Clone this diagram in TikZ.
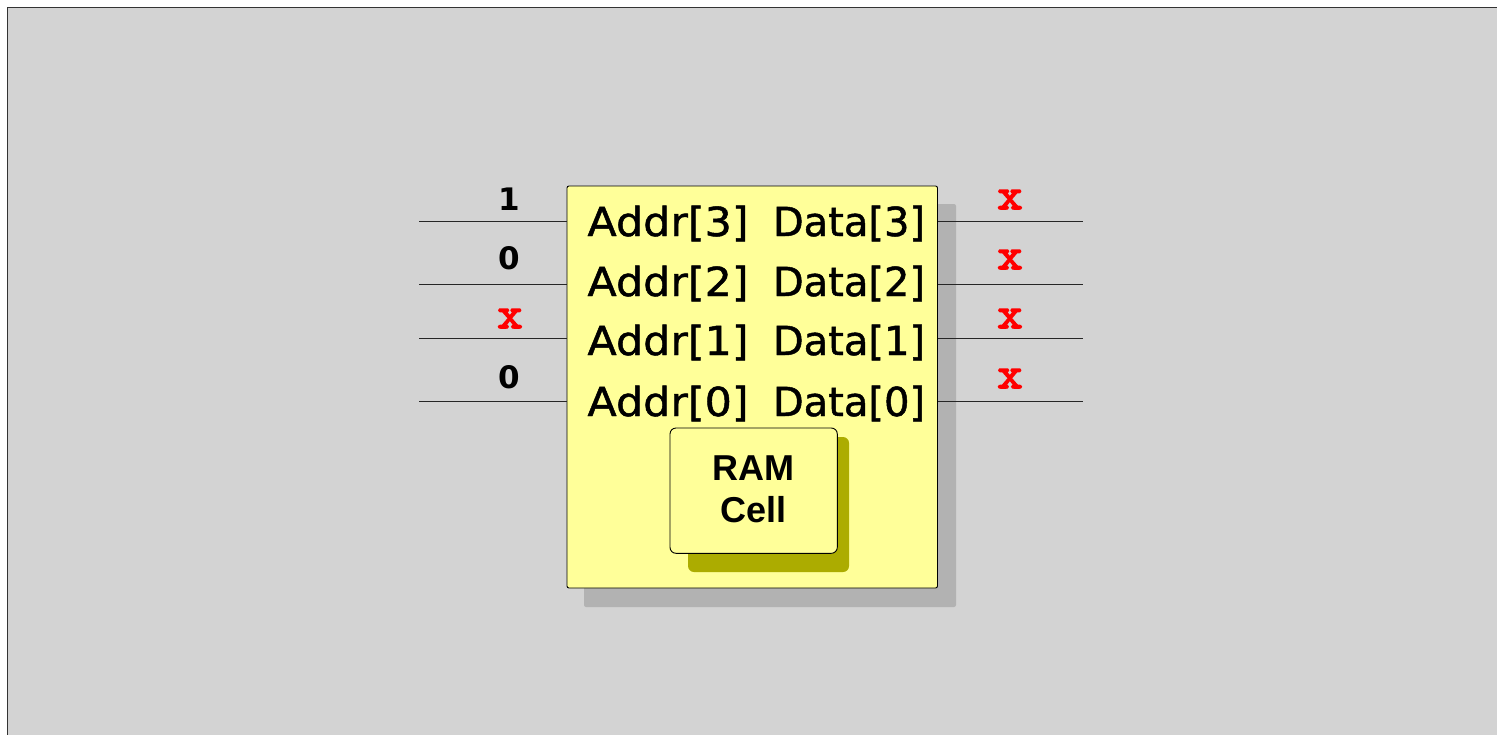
\documentclass[tikz,border=0pt]{standalone}
\usepackage{fontspec}
\setmainfont{DejaVu Sans}
\newfontfamily\addrfont{DejaVu Sans}[FakeBold=1.2, FakeStretch=1.07]
\newfontfamily\datafont{DejaVu Sans}[FakeBold=1.2]
\newfontfamily\levelfont{DejaVu Sans}
\newfontfamily\cellfont{Liberation Sans}
\newfontfamily\xfont{Latin Modern Mono}[FakeBold=3.5, FakeStretch=1.12]

\definecolor{panelgrey}{RGB}{211,211,211}
\definecolor{chipyellow}{RGB}{255,255,153}
\definecolor{chipshade}{RGB}{178,178,178}
\definecolor{cellshade}{RGB}{172,172,0}
\definecolor{unkred}{RGB}{255,0,0}

\tikzset{
  addrport/.style={anchor=base, inner sep=0pt, font=\addrfont\fontsize{40}{48}\selectfont},
  dataport/.style={anchor=base, inner sep=0pt, font=\datafont\fontsize{40}{48}\selectfont},
  level/.style={anchor=base, inner sep=0pt, font=\levelfont\bfseries\fontsize{31}{36}\selectfont},
  unknown/.style={anchor=base, inner sep=0pt, text=unkred, font=\xfont\fontsize{44}{50}\selectfont},
  celltxt/.style={anchor=base, inner sep=0pt, font=\cellfont\bfseries\fontsize{36}{42}\selectfont},
  wire/.style={line width=1.1pt, draw=black!85},
  chipbox/.style={draw=black, line width=0.9pt, fill=chipyellow, rounded corners=2pt, inner sep=0pt},
  cellbox/.style={draw=black, line width=0.9pt, fill=chipyellow, rounded corners=6pt, inner sep=0pt},
}

\begin{document}
\begin{tikzpicture}[x=1pt, y=-1pt]
  \useasboundingbox (0,0) rectangle (1497,734);
  \clip (0,0) rectangle (1497,734);
  \fill[white] (0,0) rectangle (1497,734);
  % panel background with its frame
  \draw[fill=panelgrey, draw=black!80, line width=1.4pt] (7.7,7.5) rectangle (1530,770);

  % shadow of the memory block
  \fill[chipshade, rounded corners=2pt] (584,204) rectangle (956,607);

  % memory block
  \node[chipbox, minimum width=370.5pt, minimum height=402pt] (chip) at (752.25,387) {};

  % inner cell with its shadow
  \fill[cellshade, rounded corners=6pt] (688,437) rectangle (849,572);
  \node[cellbox, minimum width=167.3pt, minimum height=125.3pt] (cell) at (753.65,490.65) {};
  \node[celltxt] (ramlbl) at (753.5,480) {RAM};
  \node[celltxt] (celllbl) at (753.5,522.7) {Cell};

  % port names
  \node[addrport] (addr3) at (668,236) {Addr[3]};
  \node[addrport] (addr2) at (668,296) {Addr[2]};
  \node[addrport] (addr1) at (668,355) {Addr[1]};
  \node[addrport] (addr0) at (668,416) {Addr[0]};
  \node[dataport] (data3) at (849,236) {Data[3]};
  \node[dataport] (data2) at (849,296) {Data[2]};
  \node[dataport] (data1) at (849,355) {Data[1]};
  \node[dataport] (data0) at (849,416) {Data[0]};

  % wire ends
  \coordinate (ain3) at (419,221.5);
  \coordinate (ain2) at (419,284.5);
  \coordinate (ain1) at (419,338.5);
  \coordinate (ain0) at (419,401.5);
  \coordinate (dout3) at (1082.5,221.5);
  \coordinate (dout2) at (1082.5,284.5);
  \coordinate (dout1) at (1082.5,338.5);
  \coordinate (dout0) at (1082.5,401.5);

  \foreach \i in {0,1,2,3} {
    \draw[wire] (ain\i) -- (ain\i -| chip.west);
    \draw[wire] (chip.east |- dout\i) -- (dout\i);
  }

  % values on the address wires
  \node[level] (v3) at (509.5,210) {1};
  \node[level] (v2) at (509.5,269.5) {0};
  \node[unknown] (v1) at (510,328) {x};
  \node[level] (v0) at (509.5,388) {0};

  % values on the data wires
  \node[unknown] (q3) at (1010,209) {x};
  \node[unknown] (q2) at (1010,269) {x};
  \node[unknown] (q1) at (1010,328) {x};
  \node[unknown] (q0) at (1010,388) {x};
\end{tikzpicture}
\end{document}
